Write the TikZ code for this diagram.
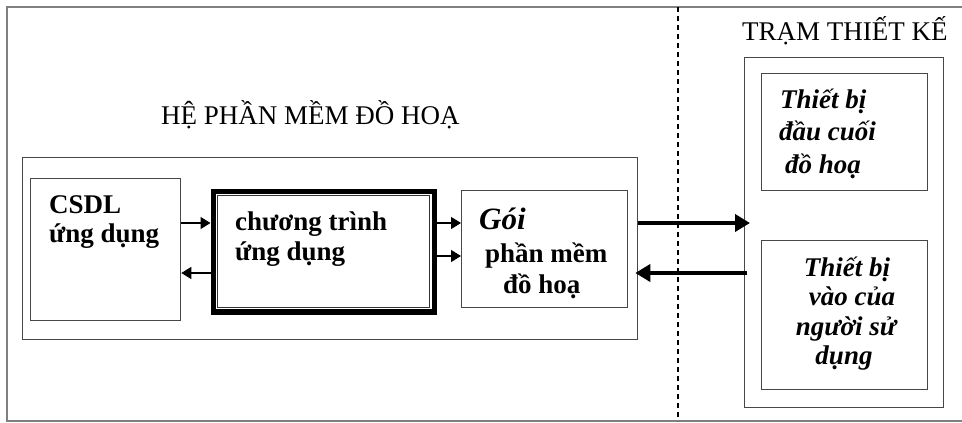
\documentclass[tikz,border=0pt]{standalone}
\usepackage{fontspec}
\setmainfont{Liberation Serif}
\usetikzlibrary{arrows.meta}
\begin{document}
\begin{tikzpicture}[x=1pt,y=-1pt,
  box/.style={draw=black!72, line width=1.3pt, anchor=north west, inner sep=0pt},
  frame/.style={draw=black!50, line width=2pt},
  txt/.style={anchor=base west, inner sep=0pt, font=\fontsize{27}{30}\selectfont\bfseries},
  itxt/.style={anchor=base west, inner sep=0pt, font=\fontsize{27}{30}\selectfont\bfseries\itshape},
  ctxt/.style={anchor=base, inner sep=0pt, font=\fontsize{27}{30}\selectfont\bfseries\itshape},
  title/.style={anchor=base west, inner sep=0pt, font=\fontsize{27}{30}\selectfont},
  thin arrow/.style={line width=1.3pt, -{Triangle[length=10pt,width=12pt]}},
  bold arrow/.style={line width=4.5pt, -{Triangle[length=15pt,width=17pt]}}
]
\useasboundingbox (0,0) rectangle (962,423);

% outer frame, open towards the right border
\draw[frame] (962,7) -- (7,7) -- (7,421) -- (962,421);

% divider between software side and design station
\coordinate (divtop) at (678,7);
\coordinate (divbot) at (678,421);
\draw[line width=1.5pt, dash pattern=on 5pt off 4pt] (divtop) -- (divbot);

% graphics software system
\node[title] (softtitle) at (161,124) {HỆ PHẦN MỀM ĐỒ HOẠ};
\node[box, minimum width=615pt, minimum height=182pt] (soft) at (22,157) {};

\node[box, minimum width=150pt, minimum height=142pt] (csdl) at (30,178) {};
\node[txt] (csdl1) at (49,213) {CSDL};
\node[txt] (csdl2) at (49,242) {ứng dụng};

\node[draw=black, line width=5.5pt, anchor=north west, inner sep=0pt,
      minimum width=221pt, minimum height=120.5pt] (prog) at (210.5,188.8) {};
\draw[black!80, line width=1.2pt] ([shift={(7.2,7)}]prog.north west) rectangle ([shift={(-7.2,-7)}]prog.south east);
\node[txt] (prog1) at (235,230) {chương trình};
\node[txt] (prog2) at (235,260) {ứng dụng};

\node[box, minimum width=166pt, minimum height=117pt] (goi) at (461,190) {};
\node[itxt, font=\fontsize{31}{34}\selectfont\bfseries\itshape] (goi1) at (479,229) {Gói};
\node[txt] (goi2) at (485,262) {phần mềm};
\node[txt] (goi3) at (503,293) {đồ hoạ};

% design station
\node[title] (stntitle) at (742,40) {TRẠM THIẾT KẾ};
\node[box, minimum width=199pt, minimum height=350pt] (stn) at (744,57) {};

\node[box, minimum width=166pt, minimum height=117pt] (term) at (761,73) {};
\node[itxt] (term1) at (780,108) {Thiết bị};
\node[itxt] (term2) at (779,140) {đầu cuối};
\node[itxt] (term3) at (785,173) {đồ hoạ};

\node[box, minimum width=166pt, minimum height=149pt] (inp) at (761,240) {};
\node[ctxt] (inp1) at (847,276) {Thiết bị};
\node[ctxt] (inp2) at (852,305) {vào của};
\node[ctxt] (inp3) at (846,335) {người sử};
\node[ctxt] (inp4) at (844,364) {dụng};

% data flow
\draw[thin arrow] (csdl.east |- 0,223) -- (prog.west |- 0,223);
\draw[thin arrow] (prog.west |- 0,273) -- (csdl.east |- 0,273);
\draw[thin arrow] (prog.east |- 0,223) -- (goi.west |- 0,223);
\draw[thin arrow] (prog.east |- 0,256) -- (goi.west |- 0,256);
\draw[bold arrow, shorten >=-6pt] (soft.east |- 0,223) -- (stn.west |- 0,223);
\draw[bold arrow, shorten <=-3pt, shorten >=-3pt] (stn.west |- 0,273) -- (soft.east |- 0,273);
\end{tikzpicture}
\end{document}
